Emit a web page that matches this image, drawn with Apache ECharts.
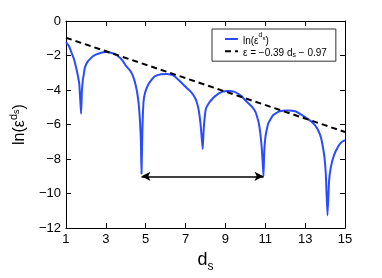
<!DOCTYPE html>
<html><head><meta charset="utf-8">
<script src="https://cdn.jsdelivr.net/npm/echarts@6/dist/echarts.min.js"></script>
<style>html,body{margin:0;padding:0;background:#fff}#c{width:382px;height:278px}</style>
</head><body><div id="c"></div>
<script>
// d_s values and ln(eps^{d_s})
var dsX = [1.00,1.15,1.27,1.40,1.52,1.62,1.67,1.72,1.76,1.80,1.85,1.89,1.95,2.08,2.25,2.40,2.65,2.88,3.05,3.20,3.44,3.60,3.76,3.90,4.00,4.12,4.25,4.38,4.49,4.58,4.65,4.72,4.76,4.79,4.83,4.89,4.97,5.13,5.30,5.45,5.77,6.09,6.41,6.73,7.05,7.30,7.45,7.54,7.65,7.74,7.80,7.86,7.90,7.94,8.02,8.15,8.26,8.50,8.82,9.14,9.46,9.79,10.10,10.35,10.50,10.59,10.68,10.75,10.82,10.87,10.91,10.95,11.00,11.04,11.15,11.39,11.71,12.11,12.51,12.92,13.32,13.50,13.64,13.78,13.88,13.97,14.04,14.12,14.20,14.28,14.44,14.68,14.85,15.00];
var lnEps = [-1.22,-1.45,-1.81,-2.20,-2.75,-3.30,-3.68,-4.62,-5.37,-4.06,-3.40,-3.12,-2.70,-2.37,-2.15,-2.00,-1.88,-1.81,-1.80,-1.82,-1.91,-2.03,-2.19,-2.40,-2.58,-2.74,-2.93,-3.25,-3.68,-4.20,-4.80,-5.90,-7.00,-8.85,-6.50,-4.71,-4.15,-3.68,-3.40,-3.21,-3.08,-3.07,-3.16,-3.50,-3.87,-4.15,-4.40,-4.62,-5.10,-5.83,-6.60,-7.42,-6.50,-5.83,-5.09,-4.80,-4.62,-4.34,-4.11,-4.06,-4.11,-4.34,-4.71,-4.99,-5.25,-5.55,-5.95,-6.49,-7.30,-8.20,-9.01,-7.50,-6.80,-6.49,-5.93,-5.46,-5.23,-5.18,-5.23,-5.51,-5.83,-6.05,-6.30,-6.70,-7.23,-7.90,-8.92,-11.26,-9.29,-8.54,-7.80,-7.23,-7.00,-6.90];
// fitted line endpoints
var fitX = [1, 15];
var fitY = [-0.97, -6.43];
// lambda arrow and label
var arrowStart = [4.79, -9.0];
var arrowEnd = [10.91, -9.0];
var lambdaPos = [7.67, -9.85];
var xTicks = {min: 1, max: 15, step: 2};
var yTicks = {min: -12, max: 0, step: 2};

var blue = dsX.map(function (x, i) { return [x, lnEps[i]]; });
var fit = fitX.map(function (x, i) { return [x, fitY[i]]; });
var FONT = 'Liberation Sans';

var chart = echarts.init(document.getElementById('c'), null, {renderer: 'canvas'});
function axisBase(pos, showLabel, t) {
  return {
    type: 'value', position: pos, min: t.min, max: t.max, interval: t.step,
    axisLine: {show: true, onZero: false, lineStyle: {color: '#000', width: 1}},
    axisTick: {show: true, inside: true, length: 5, lineStyle: {color: '#000'}},
    axisLabel: {show: showLabel, color: '#000', fontSize: 13, fontFamily: FONT, margin: 5,
      formatter: function (v) { return v < 0 ? '\u2212' + Math.abs(v) : String(v); }},
    splitLine: {show: false}
  };
}
var xb = axisBase('bottom', true, xTicks);
xb.name = '{d|d}{s|s}';
xb.nameLocation = 'middle';
xb.nameGap = 20;
xb.nameTextStyle = {rich: {
  d: {fontSize: 18, fontFamily: FONT, color: '#000', lineHeight: 22, verticalAlign: 'top'},
  s: {fontSize: 12, fontFamily: FONT, color: '#000', lineHeight: 12, verticalAlign: 'bottom'}
}};
var xt = axisBase('top', false, xTicks);
var yl = axisBase('left', true, yTicks);
yl.name = '{n|ln(\u03b5}{sup|d}{ss|s}{n|)}';
yl.nameLocation = 'middle';
yl.nameGap = 32;
yl.nameTextStyle = {rich: {
  n: {fontSize: 16, fontFamily: FONT, color: '#000', lineHeight: 20, verticalAlign: 'bottom'},
  sup: {fontSize: 11, fontFamily: FONT, color: '#000', lineHeight: 11, verticalAlign: 'top'},
  ss: {fontSize: 9, fontFamily: FONT, color: '#000', lineHeight: 9, verticalAlign: 'top', padding: [4, 0, 0, 0]}
}};
var yr = axisBase('right', false, yTicks);

chart.setOption({
  animation: false,
  backgroundColor: '#fff',
  grid: {left: 54, right: 37, top: 21, bottom: 43, containLabel: false},
  xAxis: [xb, xt],
  yAxis: [yl, yr],
  legend: {
    data: ['ln', 'fit'],
    orient: 'vertical', left: 212, top: 29,
    backgroundColor: '#fff', borderColor: '#333', borderWidth: 1, borderRadius: 0,
    padding: [3, 9, 3, 12], itemGap: 2, itemWidth: 13, itemHeight: 8,
    itemStyle: {opacity: 0},
    textStyle: {fontSize: 10, fontFamily: FONT, color: '#000', rich: {
      n: {fontSize: 10, fontFamily: FONT, color: '#000', lineHeight: 14, verticalAlign: 'bottom'},
      sup: {fontSize: 7, fontFamily: FONT, color: '#000', lineHeight: 7, verticalAlign: 'top'},
      ss: {fontSize: 6, fontFamily: FONT, color: '#000', lineHeight: 6, verticalAlign: 'top', padding: [3, 0, 0, 0]},
      sub: {fontSize: 7, fontFamily: FONT, color: '#000', lineHeight: 7, verticalAlign: 'bottom'}
    }},
    formatter: function (name) {
      if (name === 'ln') return '{n|ln(\u03b5}{sup|d}{ss|s}{n|)}';
      return '{n|\u03b5 = \u22120.39 d}{sub|s}{n| \u2212 0.97}';
    }
  },
  series: [
    {name: 'ln', type: 'line', data: blue, showSymbol: false, symbol: 'none', smooth: 0.15,
      lineStyle: {color: '#2a4bff', width: 2}, itemStyle: {color: '#2a4bff', opacity: 0}, z: 3,
      markLine: {silent: true, symbol: ['arrow', 'arrow'], symbolSize: [7, 9], label: {show: false},
        lineStyle: {color: '#000', width: 1.5, type: 'solid', opacity: 1},
        itemStyle: {color: '#000', opacity: 1},
        data: [[{coord: arrowStart}, {coord: arrowEnd}]]}},
    {name: 'fit', type: 'line', data: fit, showSymbol: false, symbol: 'none',
      lineStyle: {color: '#000', width: 2, type: [6, 4]}, itemStyle: {color: '#000', opacity: 0}, z: 4},
    {name: 'lambda', type: 'scatter', data: [lambdaPos], symbolSize: 1, itemStyle: {opacity: 0}, silent: true,
      label: {show: true, position: 'inside', formatter: '\u03bb', fontSize: 18, fontFamily: 'DejaVu Sans', color: '#000'}}
  ]
});
</script></body></html>
